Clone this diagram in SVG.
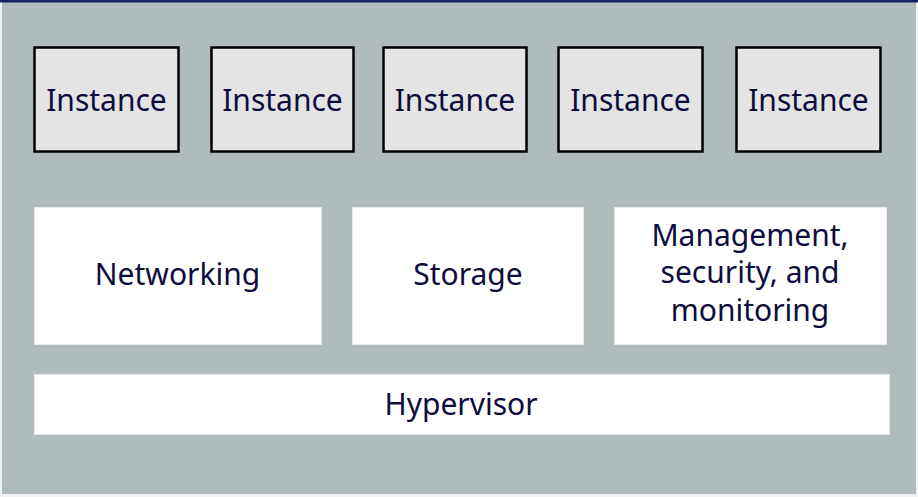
<svg xmlns="http://www.w3.org/2000/svg" width="918" height="497" viewBox="0 0 918 497">
  <style>
    .inst { fill: #e4e4e4; stroke: #000000; stroke-width: 2.5; }
    .svc { fill: #ffffff; stroke: #e6eaea; stroke-width: 1; }
    .lbl { font-family: "Noto Sans", "Open Sans", sans-serif; font-size: 30px; fill: #0d0d3d; text-anchor: middle; }
  </style>
  <!-- page and host frame -->
  <rect x="0" y="0" width="918" height="497" fill="#f1f2f4"/>
  <rect x="2" y="2" width="914" height="492" fill="#b0bbbb"/>
  <rect x="0" y="0" width="918" height="2.5" fill="#16206b"/>

  <!-- instances -->
  <g id="instance-1"><rect class="inst" x="34.5" y="47.5" width="144" height="104"/><text class="lbl" x="106.5" y="111">Instance</text></g>
  <g id="instance-2"><rect class="inst" x="211.5" y="47.5" width="142" height="104"/><text class="lbl" x="282.5" y="111">Instance</text></g>
  <g id="instance-3"><rect class="inst" x="383.5" y="47.5" width="143" height="104"/><text class="lbl" x="455" y="111">Instance</text></g>
  <g id="instance-4"><rect class="inst" x="558.5" y="47.5" width="144" height="104"/><text class="lbl" x="630.5" y="111">Instance</text></g>
  <g id="instance-5"><rect class="inst" x="736.5" y="47.5" width="144" height="104"/><text class="lbl" x="808.5" y="111">Instance</text></g>

  <!-- shared services -->
  <g id="networking"><rect class="svc" x="34.5" y="207.5" width="287" height="137"/><text class="lbl" x="177.5" y="285">Networking</text></g>
  <g id="storage"><rect class="svc" x="352.5" y="207.5" width="231" height="137"/><text class="lbl" x="468" y="285">Storage</text></g>
  <g id="management"><rect class="svc" x="614.5" y="207.5" width="272" height="137"/>
    <text class="lbl" x="750" y="245.5">Management,</text>
    <text class="lbl" x="750" y="283">security, and</text>
    <text class="lbl" x="750" y="320.5">monitoring</text>
  </g>

  <!-- hypervisor -->
  <g id="hypervisor"><rect class="svc" x="34.5" y="374.5" width="855" height="60"/><text class="lbl" x="461" y="415">Hypervisor</text></g>

  <g id="connectors"/>
</svg>
